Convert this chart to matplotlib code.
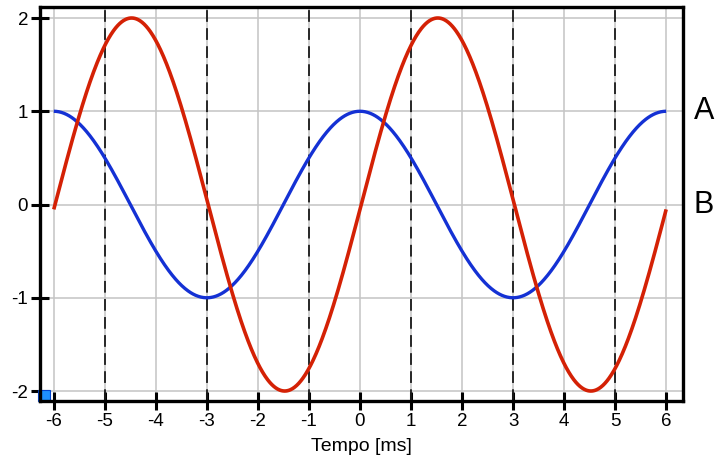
import numpy as np
import matplotlib
matplotlib.use("Agg")
import matplotlib.pyplot as plt
from matplotlib.patches import Rectangle

plt.rcParams['font.family'] = ['Liberation Sans', 'DejaVu Sans']

# Data (sinusoid parameters)
t_start, t_end = -6.0, 6.0           # ms
period_ms = 6.0
amp_blue, phase_blue = 1.0, 0.0      # cosine, peak at t=0
amp_red, shift_red = 2.0, 0.025      # sine, small time shift (ms)
x_ticks = [-6, -5, -4, -3, -2, -1, 0, 1, 2, 3, 4, 5, 6]
y_ticks = [-2, -1, 0, 1, 2]
dashed_x = [-5, -3, -1, 1, 3, 5]
side_labels = ['A', 'B']
side_label_y = [1, 0]
xlabel = 'Tempo [ms]'

t = np.linspace(t_start, t_end, 1201)
blue = amp_blue * np.cos(2 * np.pi * t / period_ms + phase_blue)
red = amp_red * np.sin(2 * np.pi * (t - shift_red) / period_ms)

fig = plt.figure(figsize=(7.17, 4.62), dpi=100)
ax = fig.add_axes([40/717, 1 - 401/462, (683-40)/717, (401-7)/462])

ax.set_xlim(-6.27, 6.33)
ax.set_ylim(-2.107, 2.118)

for xv in x_ticks:
    ax.axvline(xv, color='#c4c4c4', lw=1.1, zorder=1)
for yv in y_ticks:
    ax.axhline(yv, color='#c4c4c4', lw=1.1, zorder=1)
for xv in dashed_x:
    ax.axvline(xv, color='#1a1a1a', lw=1.3, ls=(0, (6.5, 3.5)), zorder=2)

ax.plot(t, blue, color='#1431d4', lw=2.4, zorder=3, solid_capstyle='butt')
ax.plot(t, red, color='#d42105', lw=2.6, zorder=4, solid_capstyle='butt')

ax.set_xticks(x_ticks)
ax.set_yticks(y_ticks)
ax.set_xticklabels([str(v) for v in x_ticks])
ax.set_yticklabels([str(v) for v in y_ticks])
ax.tick_params(direction='inout', length=13, width=2.2, labelsize=13.5, color='black', pad=2)
for s in ax.spines.values():
    s.set_linewidth(2.4)
    s.set_color('black')
    s.set_zorder(6)

ax.set_xlabel(xlabel, fontsize=14, labelpad=6)

for lab, yv in zip(side_labels, side_label_y):
    ax.text(1.017, yv, lab, transform=ax.get_yaxis_transform(), fontsize=22,
            ha='left', va='center', clip_on=False)

ax.add_patch(Rectangle((-2/643, 0), 12/643, 11/394, transform=ax.transAxes,
                       facecolor='#1e90ff', edgecolor='#0044cc', lw=0.8, zorder=5, clip_on=False))

fig.savefig('out.png', dpi=100)
